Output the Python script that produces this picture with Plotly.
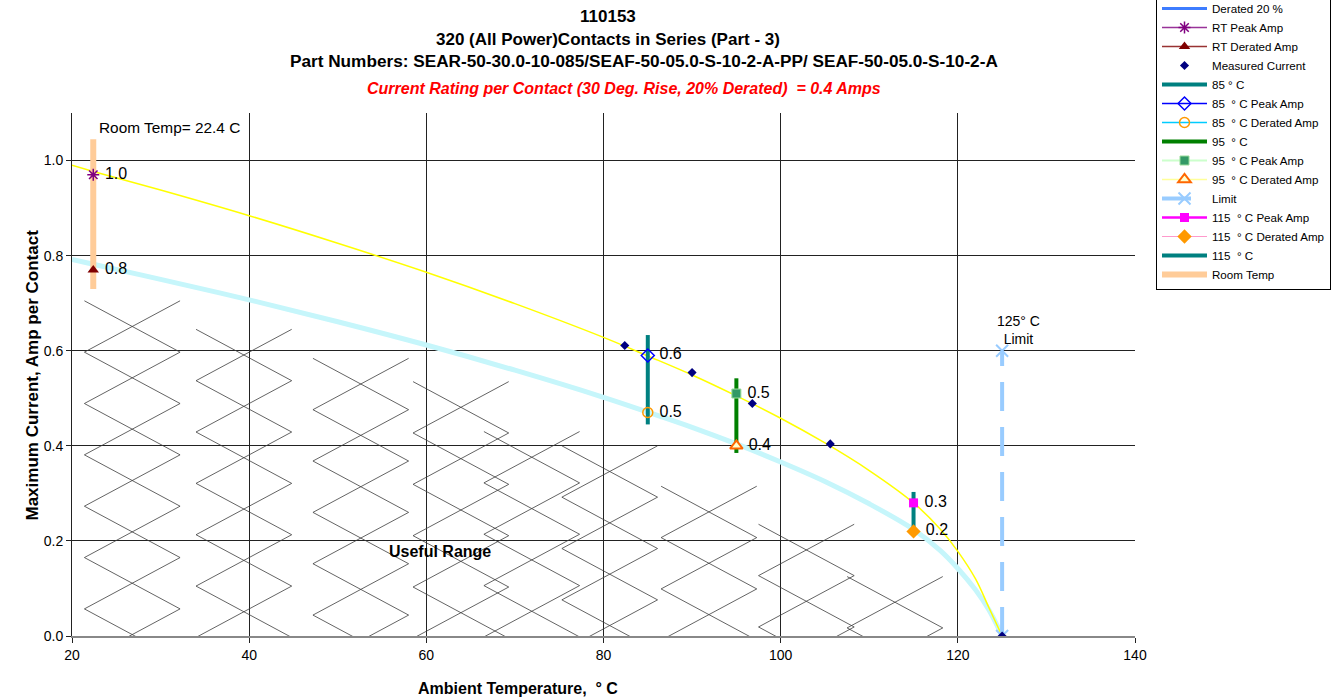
import plotly.graph_objects as go

# ---- curve data (ambient temperature in deg C, current in A) ----
curve_temps = [20, 22.4, 30, 40, 50, 60, 70, 80, 85, 90, 95, 100, 105, 110, 115, 118, 120, 122, 123.5, 125]
base_curve = [0.99, 0.977, 0.938, 0.884, 0.826, 0.765, 0.699, 0.628, 0.589, 0.549, 0.505, 0.458, 0.406,
              0.348, 0.28, 0.225, 0.178, 0.12, 0.06, 0.0]
derated_curve = [0.792, 0.782, 0.750, 0.707, 0.661, 0.612, 0.559, 0.502, 0.471, 0.439, 0.404, 0.366, 0.325,
                 0.278, 0.224, 0.18, 0.142, 0.097, 0.055, 0.0]

measured_temps = [82.4, 90.0, 96.8, 105.6, 125.0]
measured_amps = [0.611, 0.554, 0.489, 0.404, 0.0]

room_temp = 22.4
rt_peak = 0.97
rt_derated = 0.77
room_temp_span = [0.73, 1.045]

t85, t95, t115 = 85, 95, 115
peak_85, derated_85, span_85 = 0.59, 0.47, [0.445, 0.633]
peak_95, derated_95, span_95 = 0.51, 0.40, [0.385, 0.542]
peak_115, derated_115, span_115 = 0.28, 0.22, [0.212, 0.303]

limit_temp = 125
limit_span = [0.0, 0.6]

x_ticks = [20, 40, 60, 80, 100, 120, 140]
y_ticks = [0.0, 0.2, 0.4, 0.6, 0.8, 1.0]

# hatch columns for the "Useful Range" region: (left edge deg C, top current)
hatch_columns = [(21.4, 0.705), (34.0, 0.645), (47.2, 0.584), (58.5, 0.535), (66.5, 0.43),
                 (75.3, 0.40), (86.5, 0.315), (97.5, 0.235), (107.5, 0.125)]

FONT = "Arial, Liberation Sans, sans-serif"


def lbl(v):
    return f"{v:.1f}"


def hatch_segments(columns, width=10.8, half=0.108):
    xs, ys = [], []
    for x0, top in columns:
        y = top
        while y > 0:
            yb = y - half
            xs += [x0, x0 + width, None, x0, x0 + width, None]
            ys += [y, yb, None, yb, y, None]
            y = yb
    return xs, ys


fig = go.Figure()

hx, hy = hatch_segments(hatch_columns)
fig.add_trace(go.Scatter(x=hx, y=hy, mode="lines", line=dict(color="#3c3c3c", width=0.8),
                         showlegend=False, hoverinfo="skip"))

# curves
fig.add_trace(go.Scatter(x=curve_temps, y=derated_curve, mode="lines", name="Derated 20 %",
                         line=dict(color="#c6f6fb", width=5, shape="spline", smoothing=1.0),
                         showlegend=False))
fig.add_trace(go.Scatter(x=curve_temps, y=base_curve, mode="lines", name="Base Curve",
                         line=dict(color="#ffff00", width=1.5, shape="spline", smoothing=1.0),
                         legendrank=1))
fig.add_trace(go.Scatter(x=[None], y=[None], mode="lines", name="Derated 20 %",
                         line=dict(color="#3d7cff", width=3), legendrank=2))

# limit line
fig.add_trace(go.Scatter(x=[limit_temp, limit_temp], y=limit_span, mode="lines+markers", name="Limit",
                         line=dict(color="#99ccff", width=4, dash="29px,16px"),
                         marker=dict(symbol="x-thin-open", size=12, color="#99ccff",
                                     line=dict(color="#99ccff", width=2)),
                         legendrank=12))

# vertical range bars
fig.add_trace(go.Scatter(x=[room_temp, room_temp], y=room_temp_span, mode="lines", name="Room Temp",
                         line=dict(color="#ffcc99", width=6), legendrank=16))
fig.add_trace(go.Scatter(x=[t85, t85], y=span_85, mode="lines", name="85 ° C",
                         line=dict(color="#008080", width=4), legendrank=6))
fig.add_trace(go.Scatter(x=[t95, t95], y=span_95, mode="lines", name="95  ° C",
                         line=dict(color="#008000", width=4), legendrank=9))
fig.add_trace(go.Scatter(x=[t115, t115], y=span_115, mode="lines", name="115  ° C",
                         line=dict(color="#008080", width=4), legendrank=15))

# measured points
fig.add_trace(go.Scatter(x=measured_temps, y=measured_amps, mode="markers", name="Measured Current",
                         marker=dict(symbol="diamond", size=7, color="#000080"), legendrank=5))


def point(name, x, y, line_color, marker, rank, line_width=1.5):
    fig.add_trace(go.Scatter(
        x=[x], y=[y], mode="lines+markers+text", name=name,
        text=[" " + lbl(y)], textposition="middle right",
        textfont=dict(family=FONT, size=16, color="#000000"),
        line=dict(color=line_color, width=line_width), marker=marker, legendrank=rank))


point("RT Peak Amp", room_temp, rt_peak, "#993399",
      dict(symbol="asterisk-open", size=10, color="#800080", line=dict(color="#800080", width=1.5)), 3)
point("RT Derated Amp", room_temp, rt_derated, "#993333",
      dict(symbol="triangle-up", size=10, color="#800000"), 4)
point("85  ° C Peak Amp", t85, peak_85, "#0000ff",
      dict(symbol="diamond-open", size=10, color="#0000ff", line=dict(color="#0000ff", width=1.5)), 7)
point("85  ° C Derated Amp", t85, derated_85, "#00ccff",
      dict(symbol="circle-open", size=10, color="#ff9900", line=dict(color="#ff9900", width=1.5)), 8)
point("95  ° C Peak Amp", t95, peak_95, "#ccffcc",
      dict(symbol="square", size=9, color="#339966", line=dict(color="#99dd99", width=1)), 10, 2)
point("95  ° C Derated Amp", t95, derated_95, "#ffff99",
      dict(symbol="triangle-up", size=11, color="#ffffcc", line=dict(color="#ff6600", width=2)), 11)
point("115  ° C Peak Amp", t115, peak_115, "#ff00ff",
      dict(symbol="square", size=9, color="#ff00ff"), 13, 2.5)
point("115  ° C Derated Amp", t115, derated_115, "#ff99cc",
      dict(symbol="diamond", size=11, color="#ff9900"), 14, 1)

# ---- annotations ----
PW, PL, PT, PB = 1063, 72, 113, 523


def px_x(p):
    return (p - PL) / PW


def px_y(p):
    return (PT + PB - p) / PB


annos = [
    dict(text="<b>110153</b>", x=px_x(608), y=px_y(16), size=17, color="#000000"),
    dict(text="<b>320 (All Power)Contacts in Series (Part - 3)</b>", x=px_x(608), y=px_y(40), size=17,
         color="#000000"),
    dict(text="<b>Part Numbers: SEAR-50-30.0-10-085/SEAF-50-05.0-S-10-2-A-PP/ SEAF-50-05.0-S-10-2-A</b>",
         x=px_x(644), y=px_y(61), size=17.2, color="#000000"),
    dict(text="<b><i>Current Rating per Contact (30 Deg. Rise, 20% Derated)  = 0.4 Amps</i></b>",
         x=px_x(624), y=px_y(89), size=16, color="#ff0000"),
    dict(text="<b>Ambient Temperature,  ° C</b>", x=px_x(518), y=px_y(688), size=16, color="#000000"),
]
for a in annos:
    fig.add_annotation(text=a["text"], x=a["x"], y=a["y"], xref="paper", yref="paper",
                       xanchor="center", yanchor="middle", showarrow=False,
                       font=dict(family=FONT, size=a["size"], color=a["color"]))

fig.add_annotation(text="<b>Maximum Current, Amp per Contact</b>", x=px_x(20), y=px_y(375),
                   xref="paper", yref="paper", textangle=-90, showarrow=False,
                   font=dict(family=FONT, size=17, color="#000000"))
fig.add_annotation(text="Room Temp= 22.4 C", x=22.8, y=1.069, xanchor="left", yanchor="middle",
                   showarrow=False, font=dict(family=FONT, size=15.4, color="#000000"))
fig.add_annotation(text="<b>Useful Range</b>", x=61.5, y=0.178, showarrow=False,
                   font=dict(family=FONT, size=16, color="#000000"))
fig.add_annotation(text="125° C<br>Limit", x=126.8, y=0.643, showarrow=False,
                   font=dict(family=FONT, size=14, color="#000000"))

fig.update_layout(
    width=1342, height=700,
    margin=dict(l=PL, r=1342 - PL - PW, t=PT, b=700 - PT - PB, autoexpand=False),
    paper_bgcolor="#ffffff", plot_bgcolor="#ffffff",
    font=dict(family=FONT, size=12, color="#000000"),
    showlegend=True,
    legend=dict(x=px_x(1156), y=px_y(290), xanchor="left", yanchor="bottom", itemwidth=45,
                bgcolor="#ffffff", bordercolor="#000000", borderwidth=1,
                font=dict(family=FONT, size=11.6, color="#000000"), traceorder="normal"),
    xaxis=dict(range=[20, 140], tickvals=x_ticks, ticktext=[str(v) for v in x_ticks],
               showgrid=True, gridcolor="#222222", gridwidth=1, zeroline=False,
               showline=True, linecolor="#888888", linewidth=2,
               ticks="outside", ticklen=5, tickcolor="#222222",
               tickfont=dict(family=FONT, size=14, color="#000000")),
    yaxis=dict(range=[0, 1.1], tickvals=y_ticks, ticktext=[lbl(v) for v in y_ticks],
               showgrid=True, gridcolor="#222222", gridwidth=1, zeroline=False,
               showline=True, linecolor="#222222", linewidth=1,
               ticks="outside", ticklen=5, tickcolor="#222222",
               tickfont=dict(family=FONT, size=14, color="#000000")),
)

fig.write_html("out.html")
